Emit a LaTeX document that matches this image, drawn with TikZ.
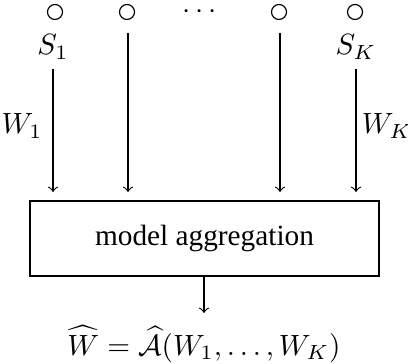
\documentclass[tikz,border=0pt]{standalone}
\usepackage{fontspec}
\setmainfont{Liberation Serif}
\usepackage{amsmath}

\begin{document}
\begin{tikzpicture}[x={(0.012cm,0cm)},y={(0cm,-0.012cm)},every node/.style={outer sep=0pt}]
\useasboundingbox (0,0) rectangle (408,364);

\node[draw,circle,minimum size=0.18cm,inner sep=0pt] (c1) at (55,12) {};
\node[draw,circle,minimum size=0.18cm,inner sep=0pt] (c2) at (127,12) {};
\node[inner sep=0pt] (dots) at (202,12) {$\cdots$};
\node[draw,circle,minimum size=0.18cm,inner sep=0pt] (c3) at (279,12) {};
\node[draw,circle,minimum size=0.18cm,inner sep=0pt] (c4) at (355,12) {};

\node (s1) at (53,47) {$S_1$};
\node (sk) at (356,47) {$S_K$};
\coordinate (t2) at (128,33);
\coordinate (t3) at (280,33);

\node[draw,minimum width=349*0.012cm,minimum height=75*0.012cm] (agg) at (204.5,238.5) {model aggregation};

\draw[->] (s1) -- (s1 |- 0,192);
\draw[->] (t2) -- (t2 |- 0,192);
\draw[->] (t3) -- (t3 |- 0,192);
\draw[->] (sk) -- (sk |- 0,192);

\node (w1) at (22,126) {$W_1$};
\node (wk) at (387,126) {$W_K$};

\node (res) at (204,344) {$\widehat{W}=\widehat{\mathcal{A}}(W_1,\ldots,W_K)$};
\draw[->] (agg.south -| 204,0) -- (204,313);
\end{tikzpicture}
\end{document}
